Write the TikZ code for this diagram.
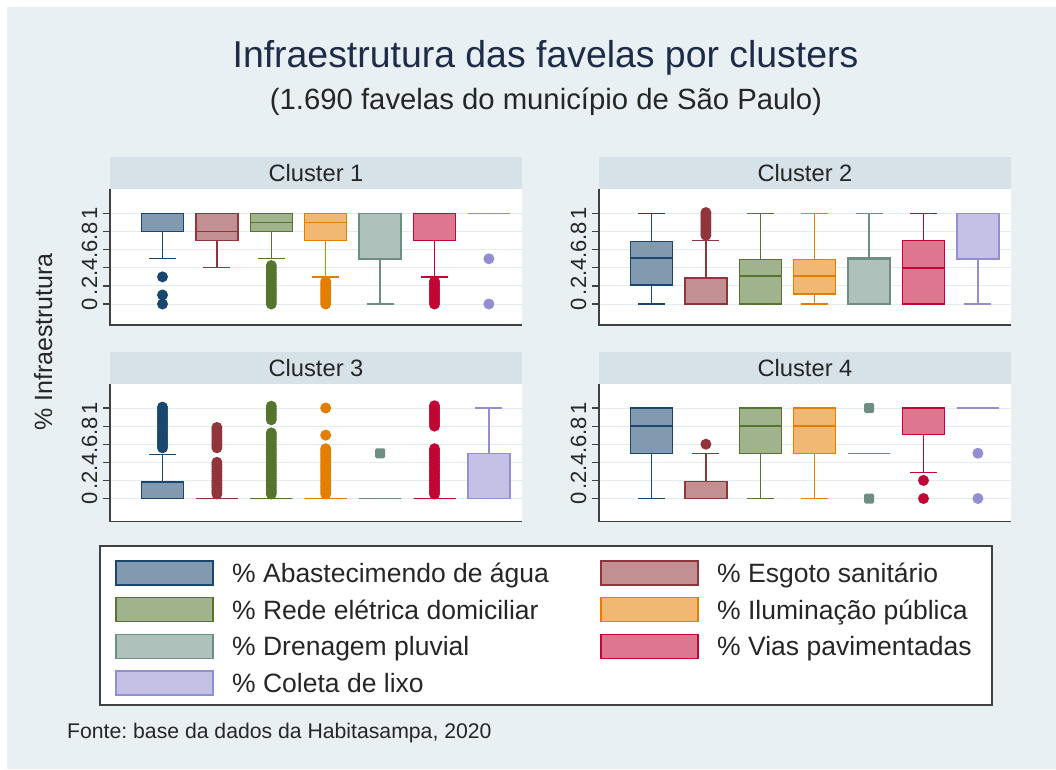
\documentclass[tikz,border=0pt]{standalone}
\usepackage{fontspec}
\setmainfont{Liberation Sans}
\frenchspacing
\definecolor{bg}{HTML}{E8F0F3}
\definecolor{hdr}{HTML}{D6E2E8}
\definecolor{gridc}{HTML}{E4EBEE}
\definecolor{ttl}{HTML}{1E2C48}
\definecolor{cA}{HTML}{1A476F}
\definecolor{cB}{HTML}{90353B}
\definecolor{cC}{HTML}{55752F}
\definecolor{cD}{HTML}{E37E00}
\definecolor{cE}{HTML}{6E8E84}
\definecolor{cF}{HTML}{C10534}
\definecolor{cG}{HTML}{938DD2}
\tikzset{
  whisk/.style={line width=1.3pt},
  axisl/.style={draw=black!75, line width=1.2pt},
  gridl/.style={draw=gridc, line width=0.9pt},
  clab/.style={font=\fontsize{23.7}{26}\selectfont, text=black!85, inner sep=0pt, anchor=base},
  tlab/.style={font=\fontsize{22}{24}\selectfont, text=black!85, inner sep=0pt, rotate=90, anchor=base},
  legt/.style={font=\fontsize{26.5}{29}\selectfont, text=black!85, inner sep=0pt, anchor=base west},
  swatch/.style={line width=1.4pt},
}
% box plot: x, colour, lower whisker, q1, median, q3, upper whisker
\newcommand\bp[7]{%
  \draw[whisk, #2] (#1,#3) -- (#1,#4) (#1,#6) -- (#1,#7);
  \draw[whisk, #2] (#1-13.5,#3) -- (#1+13.5,#3) (#1-13.5,#7) -- (#1+13.5,#7);
  \filldraw[draw=#2, fill=#2!55!white, line width=1.5pt] (#1-21,#4) rectangle (#1+21,#6);
  \draw[#2, line width=1.5pt] (#1-21,#5) -- (#1+21,#5);
}
\newcommand\ol[3]{\foreach \vv in {#3} {\fill[#2] (#1,\vv) circle (5.5pt);}}
\newcommand\sq[3]{\foreach \vv in {#3} {\fill[#2, rounded corners=1.5pt] ([shift={(-5pt,-5pt)}]#1,\vv) rectangle ([shift={(5pt,5pt)}]#1,\vv);}}
% panel frame: left x, header top y, y of value 0, bottom axis y, label, name
\newcommand\panel[6]{%
  \fill[hdr] (#1,#2) rectangle (#1+412,#2+32);
  \fill[white] (#1,#2+32) rectangle (#1+412,#4);
  \node[clab] (#6) at (#1+206,#2+24) {#5};
  \foreach \k in {0,...,5} {\draw[gridl] (#1,#3-18.1*\k) -- (#1+412,#3-18.1*\k);}
  \draw[axisl] (#1,#2+32) -- (#1,#4) -- (#1+412,#4);
  \foreach \k/\t in {0/0,1/.2,2/.4,3/.6,4/.8,5/1} {%
    \draw[axisl] (#1-7,#3-18.1*\k) -- (#1,#3-18.1*\k);
    \node[tlab] (#6t\k) at (#1-13,#3-18.1*\k) {\t};}
}
\begin{document}
\begin{tikzpicture}[x=1pt,y=-1pt]
\useasboundingbox (0,0) rectangle (1056,769);
\fill[white] (0,0) rectangle (1056,769);
\fill[bg] (7,7) rectangle (1056,769);

\node[font=\fontsize{37.4}{40}\selectfont, text=ttl, inner sep=0pt, anchor=base] (title) at (545.5,67) {Infraestrutura das favelas por clusters};
\node[font=\fontsize{29.3}{32}\selectfont, text=black!85, inner sep=0pt, anchor=base] (sub) at (546,109) {(1.690 favelas do município de São Paulo)};
\node[font=\fontsize{25}{27}\selectfont, text=black!85, inner sep=0pt, rotate=90, anchor=base] (ytitle) at (52,342) {\% Infraestrutura};

\panel{110}{157}{304}{325}{Cluster 1}{p1}
\panel{599}{157}{304}{325}{Cluster 2}{p2}
\panel{110}{352}{498.5}{521.5}{Cluster 3}{p3}
\panel{599}{352}{498.5}{521.5}{Cluster 4}{p4}

% Cluster 1
\begin{scope}[shift={(110,304)}, y=90.5pt]
  \ol{52.5}{cA}{0,0.1,0.3}
  \bp{52.5}{cA}{0.5}{0.8}{1}{1}{1}
  \bp{106.9}{cB}{0.4}{0.7}{0.8}{1}{1}
  \ol{161.3}{cC}{0,0.025,...,0.44}
  \bp{161.3}{cC}{0.5}{0.8}{0.9}{1}{1}
  \ol{215.7}{cD}{0,0.025,...,0.26}
  \bp{215.7}{cD}{0.3}{0.7}{0.9}{1}{1}
  \bp{270.1}{cE}{0}{0.5}{1}{1}{1}
  \ol{324.5}{cF}{0,0.025,...,0.26}
  \bp{324.5}{cF}{0.3}{0.7}{1}{1}{1}
  \ol{378.9}{cG}{0,0.5}
  \bp{378.9}{cG}{1}{1}{1}{1}{1}
\end{scope}
% Cluster 2
\begin{scope}[shift={(599,304)}, y=90.5pt]
  \bp{52.5}{cA}{0}{0.21}{0.51}{0.69}{1}
  \ol{106.9}{cB}{0.76,0.785,...,1.03}
  \bp{106.9}{cB}{0}{0}{0}{0.29}{0.7}
  \bp{161.3}{cC}{0}{0}{0.31}{0.49}{1}
  \bp{215.7}{cD}{0}{0.11}{0.31}{0.49}{1}
  \bp{270.1}{cE}{0}{0}{0.5}{0.51}{1}
  \bp{324.5}{cF}{0}{0}{0.4}{0.7}{1}
  \bp{378.9}{cG}{0}{0.5}{1}{1}{1}
\end{scope}
% Cluster 3
\begin{scope}[shift={(110,498.5)}, y=90.5pt]
  \ol{52.5}{cA}{0.56,0.585,...,1.03}
  \bp{52.5}{cA}{0}{0}{0}{0.185}{0.49}
  \ol{106.9}{cB}{0.05,0.075,...,0.42}
  \ol{106.9}{cB}{0.56,0.585,...,0.81}
  \bp{106.9}{cB}{0}{0}{0}{0}{0}
  \ol{161.3}{cC}{0.05,0.075,...,0.73}
  \ol{161.3}{cC}{0.87,0.895,...,1.03}
  \bp{161.3}{cC}{0}{0}{0}{0}{0}
  \ol{215.7}{cD}{0.05,0.075,...,0.55}
  \ol{215.7}{cD}{0.7,1.0}
  \bp{215.7}{cD}{0}{0}{0}{0}{0}
  \sq{270.1}{cE}{0.5}
  \bp{270.1}{cE}{0}{0}{0}{0}{0}
  \ol{324.5}{cF}{0.05,0.075,...,0.55}
  \ol{324.5}{cF}{0.8,0.825,...,1.03}
  \bp{324.5}{cF}{0}{0}{0}{0}{0}
  \bp{378.9}{cG}{0}{0}{0}{0.5}{1}
\end{scope}
% Cluster 4
\begin{scope}[shift={(599,498.5)}, y=90.5pt]
  \bp{52.5}{cA}{0}{0.5}{0.8}{1}{1}
  \ol{106.9}{cB}{0.6}
  \bp{106.9}{cB}{0}{0}{0}{0.19}{0.5}
  \bp{161.3}{cC}{0}{0.5}{0.8}{1}{1}
  \bp{215.7}{cD}{0}{0.5}{0.8}{1}{1}
  \sq{270.1}{cE}{0,1}
  \bp{270.1}{cE}{0.5}{0.5}{0.5}{0.5}{0.5}
  \ol{324.5}{cF}{0,0.2}
  \bp{324.5}{cF}{0.29}{0.71}{1}{1}{1}
  \ol{378.9}{cG}{0,0.5}
  \bp{378.9}{cG}{1}{1}{1}{1}{1}
\end{scope}

% legend
\filldraw[fill=white, draw=black!75, line width=1.3pt] (100,546) rectangle (992,705);
\foreach \c/\n/\t [count=\i from 0] in {cA/la/{\% Abastecimendo de água},cC/lc/{\% Rede elétrica domiciliar},cE/le/{\% Drenagem pluvial},cG/lg/{\% Coleta de lixo}} {
  \filldraw[swatch, draw=\c, fill=\c!55!white] (116,561+36.7*\i) rectangle (213,585+36.7*\i);
  \node[legt] (\n) at (232,582.5+36.7*\i) {\t};
}
\foreach \c/\n/\t [count=\i from 0] in {cB/lb/{\% Esgoto sanitário},cD/ld/{\% Iluminação pública},cF/lf/{\% Vias pavimentadas}} {
  \filldraw[swatch, draw=\c, fill=\c!55!white] (601,561+36.7*\i) rectangle (698,585+36.7*\i);
  \node[legt] (\n) at (717,582.5+36.7*\i) {\t};
}
\node[font=\fontsize{21.2}{23}\selectfont, text=black!85, inner sep=0pt, anchor=base west] (fonte) at (67,738.5) {Fonte: base da dados da Habitasampa, 2020};
\end{tikzpicture}
\end{document}
